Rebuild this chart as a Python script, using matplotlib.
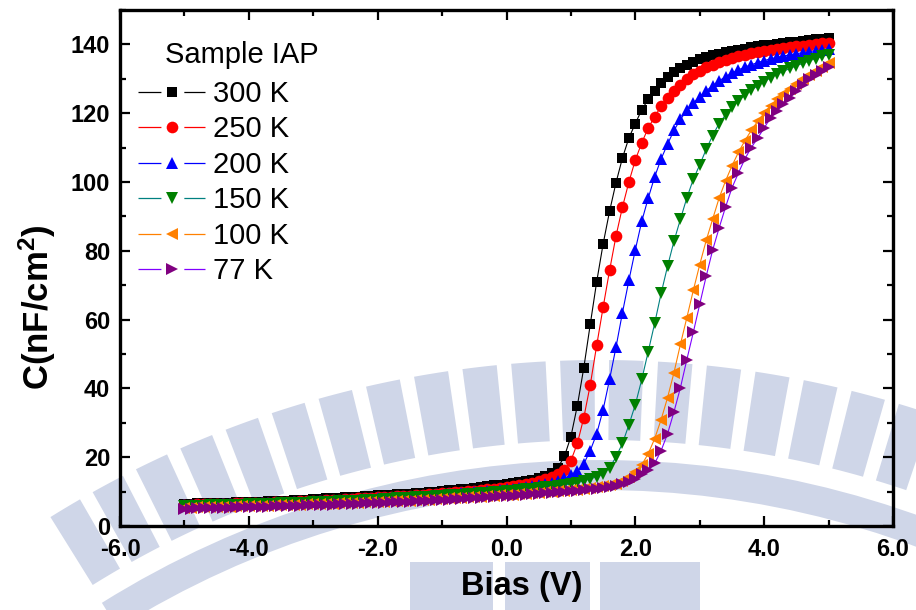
import numpy as np
import matplotlib
matplotlib.use("Agg")
import matplotlib.pyplot as plt
from matplotlib.ticker import MultipleLocator, FormatStrFormatter
from matplotlib.patches import Wedge, Rectangle
from matplotlib.transforms import IdentityTransform

plt.rcParams['font.family'] = ['Liberation Sans', 'DejaVu Sans']
plt.rcParams['mathtext.fontset'] = 'custom'
plt.rcParams['mathtext.rm'] = 'Liberation Sans:bold'
plt.rcParams['mathtext.bf'] = 'Liberation Sans:bold'
plt.rcParams['mathtext.default'] = 'rm'
plt.rcParams['lines.scale_dashes'] = False

# Bias sweep, -5 V to +5 V in 0.1 V steps
bias = np.round(np.arange(-50, 51) / 10.0, 1)

c_300K = [
    6.5, 6.5, 6.6, 6.6, 6.7, 6.7, 6.8, 6.8, 6.9, 6.9,
    7.0, 7.0, 7.1, 7.2, 7.2, 7.3, 7.4, 7.5, 7.6, 7.7,
    7.8, 7.9, 8.0, 8.1, 8.2, 8.3, 8.4, 8.5, 8.6, 8.7,
    8.9, 9.0, 9.1, 9.2, 9.3, 9.4, 9.6, 9.7, 9.9, 10.0,
    10.2, 10.4, 10.5, 10.7, 10.9, 11.1, 11.3, 11.5, 11.8, 12.0,
    12.3, 12.5, 12.8, 13.1, 13.5, 14.0, 14.6, 15.4, 17.0, 20.3,
    26.0, 35.0, 46.0, 58.6, 71.0, 82.0, 91.5, 99.8, 107.0, 112.8,
    117.0, 121.0, 124.0, 126.5, 128.8, 130.6, 132.0, 133.2, 134.1, 135.0,
    135.7, 136.3, 136.8, 137.3, 137.7, 138.1, 138.5, 138.8, 139.1, 139.4,
    139.7, 139.9, 140.2, 140.4, 140.6, 140.8, 141.0, 141.3, 141.5, 141.7,
    142.0]

c_250K = [
    6.2, 6.2, 6.3, 6.3, 6.4, 6.4, 6.5, 6.5, 6.6, 6.6,
    6.7, 6.7, 6.8, 6.8, 6.9, 7.0, 7.0, 7.1, 7.2, 7.3,
    7.3, 7.4, 7.5, 7.6, 7.7, 7.8, 7.9, 8.0, 8.1, 8.2,
    8.3, 8.4, 8.5, 8.6, 8.7, 8.8, 9.0, 9.1, 9.2, 9.4,
    9.5, 9.7, 9.8, 10.0, 10.1, 10.3, 10.5, 10.7, 10.9, 11.1,
    11.3, 11.6, 11.9, 12.2, 12.6, 13.1, 13.6, 14.2, 15.0, 16.3,
    19.0, 24.0, 31.5, 41.0, 52.5, 63.6, 74.3, 84.3, 92.7, 100.0,
    106.4, 111.4, 115.7, 119.0, 122.0, 124.5, 126.5, 128.3, 130.0, 131.3,
    132.4, 133.3, 134.1, 134.8, 135.5, 136.1, 136.6, 137.0, 137.4, 137.8,
    138.1, 138.4, 138.7, 138.9, 139.2, 139.4, 139.6, 139.8, 140.0, 140.3,
    140.5]

c_200K = [
    6.0, 6.0, 6.1, 6.1, 6.2, 6.2, 6.3, 6.3, 6.4, 6.4,
    6.5, 6.5, 6.6, 6.6, 6.7, 6.8, 6.8, 6.9, 7.0, 7.0,
    7.1, 7.2, 7.3, 7.3, 7.4, 7.5, 7.6, 7.7, 7.8, 7.9,
    8.0, 8.1, 8.2, 8.3, 8.4, 8.5, 8.6, 8.7, 8.8, 9.0,
    9.1, 9.2, 9.4, 9.5, 9.7, 9.8, 10.0, 10.2, 10.3, 10.5,
    10.7, 10.9, 11.1, 11.4, 11.6, 11.9, 12.2, 12.6, 13.2, 13.9,
    14.8, 16.0, 18.1, 21.9, 26.8, 33.8, 42.6, 52.0, 62.0, 71.4,
    80.3, 88.6, 95.3, 101.5, 106.7, 111.0, 115.0, 118.2, 120.8, 123.0,
    124.8, 126.5, 128.0, 129.4, 130.6, 131.7, 132.6, 133.4, 134.1, 134.7,
    135.3, 135.8, 136.2, 136.6, 137.0, 137.3, 137.6, 137.9, 138.2, 138.5,
    138.8]

c_150K = [
    5.8, 5.8, 5.9, 5.9, 6.0, 6.0, 6.1, 6.1, 6.2, 6.2,
    6.3, 6.3, 6.4, 6.4, 6.5, 6.6, 6.6, 6.7, 6.8, 6.8,
    6.9, 7.0, 7.0, 7.1, 7.2, 7.3, 7.4, 7.4, 7.5, 7.6,
    7.7, 7.8, 7.9, 8.0, 8.1, 8.2, 8.3, 8.4, 8.5, 8.6,
    8.8, 8.9, 9.0, 9.1, 9.3, 9.4, 9.6, 9.7, 9.9, 10.0,
    10.2, 10.3, 10.5, 10.7, 10.8, 11.0, 11.2, 11.4, 11.6, 11.9,
    12.2, 12.6, 13.1, 13.7, 14.3, 15.2, 16.9, 20.1, 24.0, 29.4,
    35.3, 42.6, 50.7, 58.9, 67.6, 75.5, 82.8, 89.2, 95.4, 100.8,
    105.0, 109.5, 113.5, 117.0, 119.5, 121.8, 123.6, 125.2, 126.7, 128.0,
    129.2, 130.3, 131.3, 132.2, 133.0, 133.8, 134.5, 135.2, 135.9, 136.5,
    137.0]

c_100K = [
    5.3, 5.3, 5.4, 5.4, 5.5, 5.5, 5.6, 5.6, 5.7, 5.7,
    5.8, 5.8, 5.9, 5.9, 6.0, 6.0, 6.1, 6.2, 6.2, 6.3,
    6.3, 6.4, 6.5, 6.5, 6.6, 6.7, 6.7, 6.8, 6.9, 7.0,
    7.0, 7.1, 7.2, 7.3, 7.3, 7.4, 7.5, 7.6, 7.7, 7.8,
    7.9, 8.0, 8.1, 8.2, 8.3, 8.4, 8.5, 8.6, 8.7, 8.9,
    9.0, 9.1, 9.2, 9.4, 9.5, 9.6, 9.8, 9.9, 10.1, 10.2,
    10.4, 10.6, 10.8, 11.0, 11.3, 11.5, 11.9, 12.3, 13.0, 14.2,
    15.7, 17.8, 21.0, 25.4, 30.9, 37.3, 44.6, 52.8, 60.6, 68.5,
    76.0, 83.0, 89.2, 95.3, 100.3, 104.7, 108.6, 112.0, 115.0, 117.7,
    120.0, 122.2, 124.0, 125.6, 127.1, 128.5, 129.8, 131.1, 132.3, 133.4,
    134.5]

c_77K = [
    5.0, 5.0, 5.1, 5.1, 5.2, 5.2, 5.3, 5.3, 5.4, 5.4,
    5.5, 5.5, 5.6, 5.6, 5.7, 5.7, 5.8, 5.9, 5.9, 6.0,
    6.0, 6.1, 6.2, 6.2, 6.3, 6.4, 6.4, 6.5, 6.6, 6.7,
    6.7, 6.8, 6.9, 7.0, 7.0, 7.1, 7.2, 7.3, 7.4, 7.5,
    7.6, 7.7, 7.8, 7.9, 8.0, 8.1, 8.2, 8.3, 8.4, 8.6,
    8.7, 8.8, 8.9, 9.1, 9.2, 9.3, 9.5, 9.6, 9.8, 9.9,
    10.1, 10.3, 10.5, 10.7, 10.9, 11.1, 11.4, 11.7, 12.1, 12.8,
    13.8, 15.0, 16.2, 18.2, 21.9, 26.8, 33.2, 40.2, 48.4, 56.3,
    64.5, 72.6, 80.2, 86.6, 92.7, 98.3, 102.6, 106.7, 110.0, 112.8,
    115.7, 118.7, 120.7, 122.7, 124.5, 126.5, 128.3, 129.8, 131.2, 132.3,
    133.3]

labels = ["300 K", "250 K", "200 K", "150 K", "100 K", "77 K"]
series = [c_300K, c_250K, c_200K, c_150K, c_100K, c_77K]
markers = ["s", "o", "^", "v", "<", ">"]
marker_sizes = [7.2, 8.4, 8.6, 8.6, 8.6, 8.6]
marker_colors = ["#000000", "#ff0000", "#0000ff", "#008000", "#ff8000", "#800080"]
line_colors = ["#000000", "#ff0000", "#0000ff", "#008080", "#ff8000", "#8000ff"]

W, H = 916, 610
fig = plt.figure(figsize=(W / 100, H / 100), dpi=100)

# pale background emblem behind the plot (pixel coordinates, origin bottom-left)
emb = '#cfd6e8'
px = IdentityTransform()
cx, cy = 600, H - 1400
ang = 66.0
while ang < 121:
    fig.patches.append(Wedge((cx, cy), 1040, ang, ang + 1.9, width=80,
                             transform=px, facecolor=emb, edgecolor='none',
                             zorder=-5))
    ang += 2.7
fig.patches.append(Wedge((cx, cy), 940, 62, 122, width=30, transform=px,
                         facecolor=emb, edgecolor='none', zorder=-5))
for x0, x1 in [(410, 493), (505, 590), (600, 700)]:
    fig.patches.append(Rectangle((x0, 0), x1 - x0, 48, transform=px,
                                 facecolor=emb, edgecolor='none', zorder=-5))

ax = fig.add_axes([120 / W, 1 - 526 / H, 773 / W, 516 / H])
ax.set_facecolor('none')

handles = []
for y, lab, m, ms, mc, lc in zip(series, labels, markers, marker_sizes,
                                  marker_colors, line_colors):
    ax.plot(bias, y, '-', color=lc, lw=0.8, zorder=2)
    ax.plot(bias, y, linestyle='none', marker=m, ms=ms, mfc=mc, mec=mc,
            mew=0, zorder=3)
    h, = ax.plot([], [], color=lc, lw=0.9, marker=m, ms=ms, mfc=mc, mec=mc,
                 mew=0, linestyle=(0, (16.5, 16.5, 16.5)))
    handles.append(h)

ax.set_xlim(-6, 6)
ax.set_ylim(0, 150)
ax.xaxis.set_major_locator(MultipleLocator(2))
ax.xaxis.set_minor_locator(MultipleLocator(1))
ax.yaxis.set_minor_locator(MultipleLocator(10))
ax.xaxis.set_major_formatter(FormatStrFormatter('%.1f'))
ax.yaxis.set_major_formatter(FormatStrFormatter('%d'))
ax.set_yticks([0, 20, 40, 60, 80, 100, 120, 140])

for s in ax.spines.values():
    s.set_linewidth(2.4)
ax.tick_params(which='both', direction='in', top=True, right=True,
               width=1.6, labelsize=17)
ax.tick_params(axis='x', pad=9)
ax.tick_params(axis='y', pad=7)
ax.tick_params(which='major', length=7)
ax.tick_params(which='minor', length=4)
for t in ax.get_xticklabels() + ax.get_yticklabels():
    t.set_fontweight('bold')

ax.set_xlabel('Bias (V)', fontsize=23.5, fontweight='bold')
ax.set_ylabel(r'C(nF/cm$^{2}$)', fontsize=25, fontweight='bold')
ax.xaxis.set_label_coords((522 - 120) / 773, -(586 - 526) / 516)
ax.yaxis.set_label_coords(-(120 - 37) / 773, 1 - (307 - 10) / 516)
ax.xaxis.label.set_va('center')
ax.yaxis.label.set_va('center')

ax.text(45 / 773, 1 - 45 / 516, 'Sample IAP', transform=ax.transAxes,
        fontsize=21, va='center', ha='left')

leg = ax.legend(handles, labels, loc='upper left',
                bbox_to_anchor=(18 / 773, 1 - 70 / 516),
                frameon=False, fontsize=21, handlelength=2.3,
                handletextpad=0.27, labelspacing=0.255, borderpad=0,
                borderaxespad=0, numpoints=1)

fig.savefig('out.png', dpi=100)
